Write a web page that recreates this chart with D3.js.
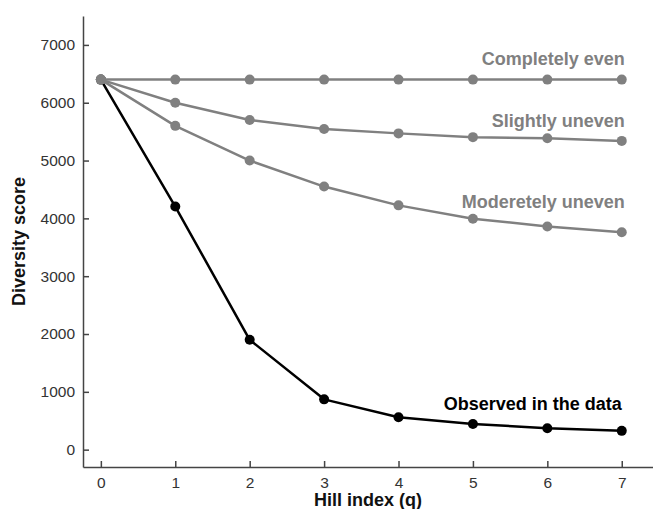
<!DOCTYPE html>
<html>
<head>
<meta charset="utf-8">
<script src="https://cdn.jsdelivr.net/npm/d3@7"></script>
<style>
	body { margin: 0; background: #fff; }
	svg { display: block; font-family: 'Liberation Sans', Arial, Helvetica, sans-serif; }
</style>
</head>
<body>
<svg id="chart"></svg>
<script>
// data
const hillIndex = [0, 1, 2, 3, 4, 5, 6, 7];
const completelyEven = [6400, 6400, 6400, 6400, 6400, 6400, 6400, 6400];
const slightlyUneven = [6400, 6000, 5700, 5545, 5470, 5405, 5385, 5340];
const moderatelyUneven = [6400, 5600, 5000, 4550, 4225, 3995, 3860, 3760];
const observed = [6400, 4205, 1900, 870, 560, 445, 370, 325];
const yTicks = [0, 1000, 2000, 3000, 4000, 5000, 6000, 7000];
const xTicks = [0, 1, 2, 3, 4, 5, 6, 7];
const seriesNames = ['Completely even', 'Slightly uneven', 'Moderetely uneven', 'Observed in the data'];

const width = 653;
const height = 509;
const grey = '#808080';

const svg = d3.select('#chart')
	.attr('width', width)
	.attr('height', height);

const x = d3.scaleLinear().domain([-0.24, 7.42]).range([83, 653]);
const y = d3.scaleLinear().domain([-300, 7500]).range([467, 16]);

// observed first so the grey markers sit on top at q = 0
const series = [
	{ name: seriesNames[3], values: observed, color: '#000', r: 5, dx: 0, dy: -21 },
	{ name: seriesNames[2], values: moderatelyUneven, color: grey, r: 5, dx: 3, dy: -24 },
	{ name: seriesNames[1], values: slightlyUneven, color: grey, r: 5, dx: 3, dy: -14 },
	{ name: seriesNames[0], values: completelyEven, color: grey, r: 5, dx: 3, dy: -15 }
];

// axes, ticks point inward
const yAxis = svg.append('g')
	.attr('transform', 'translate(' + x.range()[0] + ',0)')
	.call(d3.axisLeft(y).tickValues(yTicks).tickFormat(d3.format('d'))
		.tickSizeInner(-6).tickSizeOuter(0).tickPadding(8));

const xAxis = svg.append('g')
	.attr('transform', 'translate(0,' + y.range()[0] + ')')
	.call(d3.axisBottom(x).tickValues(xTicks).tickFormat(d3.format('d'))
		.tickSizeInner(-6).tickSizeOuter(0).tickPadding(10));

[xAxis, yAxis].forEach((g) => {
	g.attr('font-family', null).attr('font-size', 15.5);
	g.select('.domain').attr('stroke', '#444').attr('stroke-width', 1.5);
	g.selectAll('.tick line').attr('stroke', '#444').attr('stroke-width', 1.5);
	g.selectAll('.tick text').attr('fill', '#333');
});

svg.append('text')
	.attr('transform', 'translate(25,' + (y.range()[0] + y.range()[1]) / 2 + ') rotate(-90)')
	.attr('text-anchor', 'middle')
	.attr('font-size', 18)
	.attr('font-weight', 'bold')
	.attr('fill', '#111')
	.text('Diversity score');

svg.append('text')
	.attr('x', (x.range()[0] + x.range()[1]) / 2)
	.attr('y', 506)
	.attr('text-anchor', 'middle')
	.attr('font-size', 18)
	.attr('font-weight', 'bold')
	.attr('fill', '#111')
	.text('Hill index (q)');

const line = d3.line()
	.x((d, i) => x(hillIndex[i]))
	.y((d) => y(d));

const groups = svg.selectAll('g.series')
	.data(series)
	.enter().append('g')
	.attr('class', 'series');

groups.append('path')
	.attr('d', (d) => line(d.values))
	.attr('fill', 'none')
	.attr('stroke', (d) => d.color)
	.attr('stroke-width', 2.5)
	.attr('stroke-linejoin', 'round');

groups.selectAll('circle')
	.data((d) => d.values.map((v, i) => ({ q: hillIndex[i], v: v, s: d })))
	.enter().append('circle')
	.attr('cx', (d) => x(d.q))
	.attr('cy', (d) => y(d.v))
	.attr('r', (d) => d.s.r)
	.attr('fill', (d) => d.s.color);

// series labels at the right end of each line
groups.append('text')
	.attr('x', (d) => x(hillIndex[hillIndex.length - 1]) + d.dx)
	.attr('y', (d) => y(d.values[d.values.length - 1]) + d.dy)
	.attr('text-anchor', 'end')
	.attr('font-size', 18)
	.attr('font-weight', 'bold')
	.attr('fill', (d) => d.color)
	.text((d) => d.name);
</script>
</body>
</html>
